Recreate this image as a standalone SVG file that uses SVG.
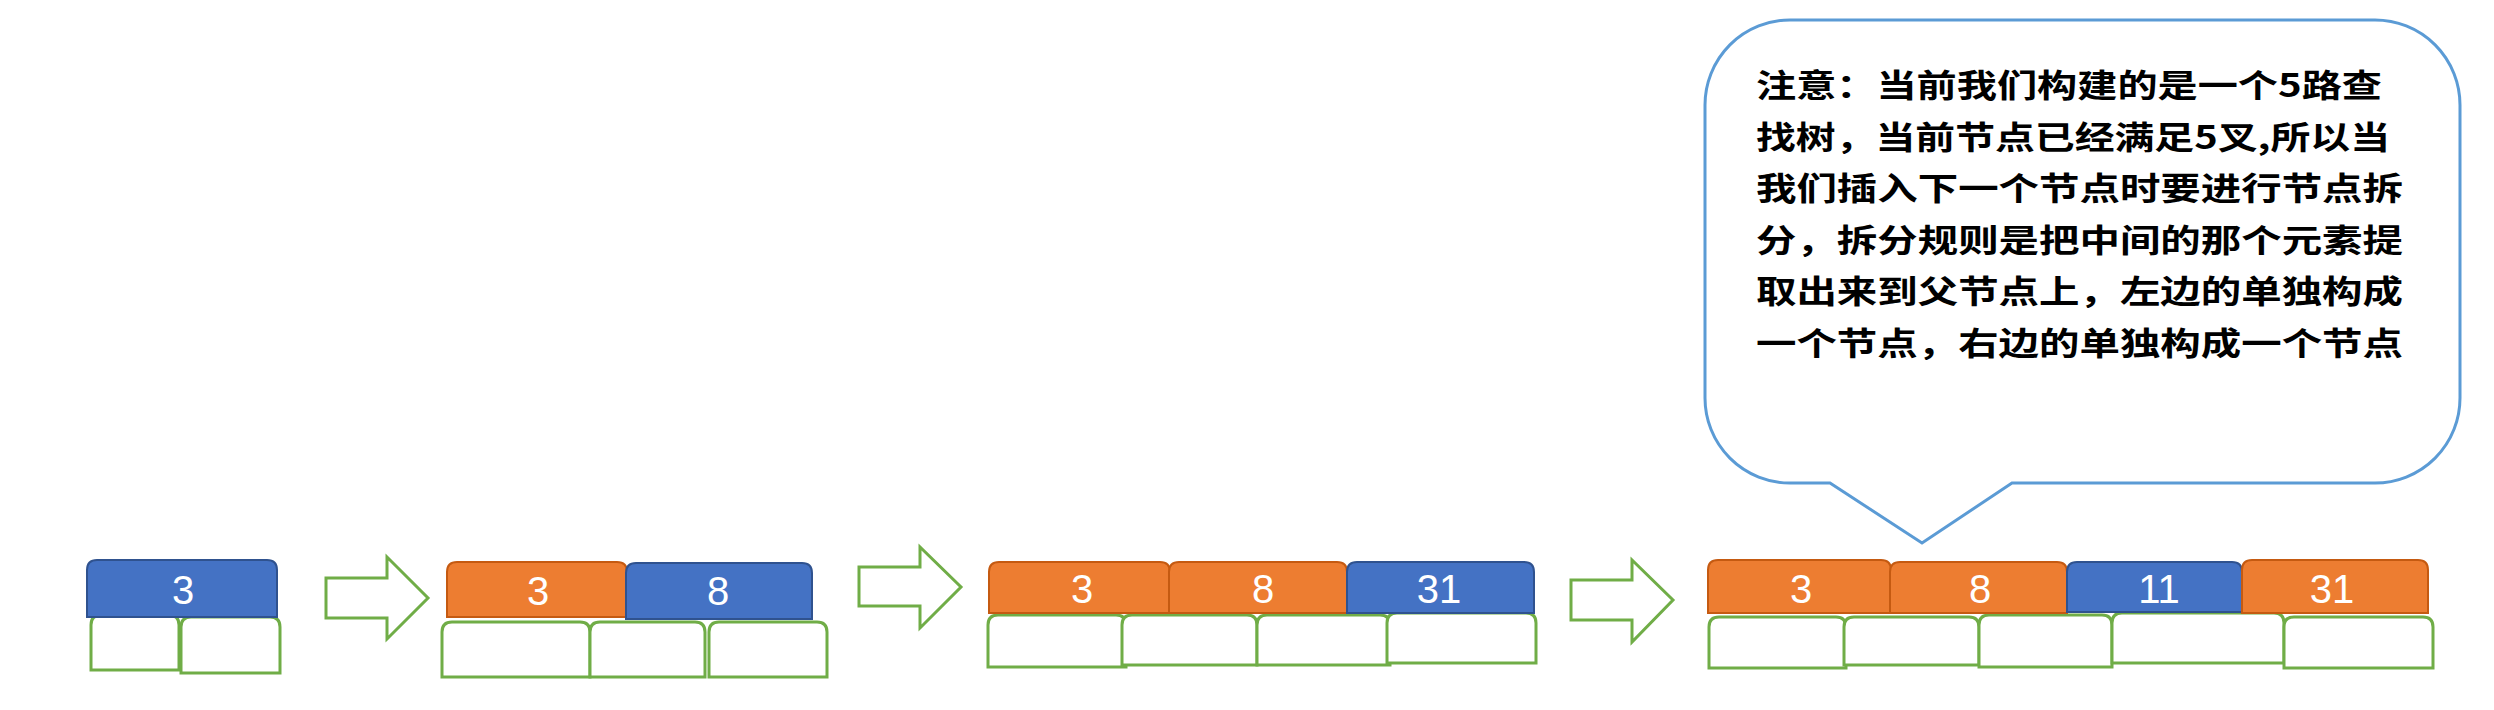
<svg xmlns="http://www.w3.org/2000/svg" width="2494" height="710" viewBox="0 0 2494 710">
<style>
.or{fill:#ED7D31;stroke:#C55A11;stroke-width:2}
.bl{fill:#4472C4;stroke:#2F528F;stroke-width:2}
.gr{fill:#FFFFFF;stroke:#70AD47;stroke-width:3}
.ar{fill:#FFFFFF;stroke:#70AD47;stroke-width:3;stroke-linejoin:miter}
.num{font-family:"Liberation Sans",Arial,sans-serif;font-size:40px;fill:#FFFFFF;text-anchor:middle}
.note{font-family:"Noto Sans CJK SC","Liberation Sans",sans-serif;font-size:32px;font-weight:bold;fill:#000000}
.call{fill:#FFFFFF;stroke:#5B9BD5;stroke-width:3}
</style>
<rect width="2494" height="710" fill="#FFFFFF"/>

<g id="callout">
<path class="call" d="M1790,20 L2375,20 A85,85 0 0 1 2460,105 L2460,398 A85,85 0 0 1 2375,483 L2012,483 L1922,543 L1830,483 L1790,483 A85,85 0 0 1 1705,398 L1705,105 A85,85 0 0 1 1790,20 Z"/>
<text class="note" x="1756" y="97" textLength="626" lengthAdjust="spacingAndGlyphs">注意：当前我们构建的是一个5路查</text>
<text class="note" x="1756" y="148.5" textLength="634" lengthAdjust="spacingAndGlyphs">找树，当前节点已经满足5叉,所以当</text>
<text class="note" x="1756" y="200" textLength="647" lengthAdjust="spacingAndGlyphs">我们插入下一个节点时要进行节点拆</text>
<text class="note" x="1756" y="251.5" textLength="647" lengthAdjust="spacingAndGlyphs">分，拆分规则是把中间的那个元素提</text>
<text class="note" x="1756" y="303" textLength="647" lengthAdjust="spacingAndGlyphs">取出来到父节点上，左边的单独构成</text>
<text class="note" x="1756" y="354.5" textLength="647" lengthAdjust="spacingAndGlyphs">一个节点，右边的单独构成一个节点</text>
</g>

<g id="node1">
<path class="gr" d="M91,670 L91,625 Q91,615 101,615 L169,615 Q179,615 179,625 L179,670 Z"/>
<path class="gr" d="M181,673 L181,627 Q181,617 191,617 L270,617 Q280,617 280,627 L280,673 Z"/>
<path class="bl" d="M87,617 L87,570 Q87,560 97,560 L267,560 Q277,560 277,570 L277,617 Z"/>
<text class="num" x="183" y="604">3</text>
</g>

<g id="node2">
<path class="gr" d="M442,677 L442,632 Q442,622 452,622 L580,622 Q590,622 590,632 L590,677 Z"/>
<path class="gr" d="M590,677 L590,632 Q590,622 600,622 L695,622 Q705,622 705,632 L705,677 Z"/>
<path class="gr" d="M709,677 L709,632 Q709,622 719,622 L817,622 Q827,622 827,632 L827,677 Z"/>
<path class="or" d="M447,617 L447,572 Q447,562 457,562 L617,562 Q627,562 627,572 L627,617 Z"/>
<path class="bl" d="M626,619 L626,573 Q626,563 636,563 L802,563 Q812,563 812,573 L812,619 Z"/>
<text class="num" x="538" y="605">3</text>
<text class="num" x="718" y="605">8</text>
</g>

<g id="node3">
<path class="gr" d="M988,667 L988,625 Q988,615 998,615 L1116,615 Q1126,615 1126,625 L1126,667 Z"/>
<path class="gr" d="M1122,665 L1122,625 Q1122,615 1132,615 L1247,615 Q1257,615 1257,625 L1257,665 Z"/>
<path class="gr" d="M1257,665 L1257,625 Q1257,615 1267,615 L1380,615 Q1390,615 1390,625 L1390,665 Z"/>
<path class="gr" d="M1387,663 L1387,623 Q1387,613 1397,613 L1526,613 Q1536,613 1536,623 L1536,663 Z"/>
<path class="or" d="M989,613 L989,572 Q989,562 999,562 L1160,562 Q1170,562 1170,572 L1170,613 Z"/>
<path class="or" d="M1169,613 L1169,572 Q1169,562 1179,562 L1337,562 Q1347,562 1347,572 L1347,613 Z"/>
<path class="bl" d="M1347,613 L1347,572 Q1347,562 1357,562 L1524,562 Q1534,562 1534,572 L1534,613 Z"/>
<text class="num" x="1082" y="603">3</text>
<text class="num" x="1263" y="603">8</text>
<text class="num" x="1439" y="603">31</text>
</g>

<g id="node4">
<path class="gr" d="M1709,668 L1709,627 Q1709,617 1719,617 L1836,617 Q1846,617 1846,627 L1846,668 Z"/>
<path class="gr" d="M1844,665 L1844,627 Q1844,617 1854,617 L1969,617 Q1979,617 1979,627 L1979,665 Z"/>
<path class="gr" d="M1979,667 L1979,625 Q1979,615 1989,615 L2102,615 Q2112,615 2112,625 L2112,667 Z"/>
<path class="gr" d="M2112,663 L2112,623 Q2112,613 2122,613 L2274,613 Q2284,613 2284,623 L2284,663 Z"/>
<path class="gr" d="M2284,668 L2284,627 Q2284,617 2294,617 L2423,617 Q2433,617 2433,627 L2433,668 Z"/>
<path class="or" d="M1708,613 L1708,570 Q1708,560 1718,560 L1881,560 Q1891,560 1891,570 L1891,613 Z"/>
<path class="or" d="M1890,613 L1890,572 Q1890,562 1900,562 L2057,562 Q2067,562 2067,572 L2067,613 Z"/>
<path class="bl" d="M2067,612 L2067,572 Q2067,562 2077,562 L2232,562 Q2242,562 2242,572 L2242,612 Z"/>
<path class="or" d="M2242,613 L2242,570 Q2242,560 2252,560 L2418,560 Q2428,560 2428,570 L2428,613 Z"/>
<text class="num" x="1801" y="603">3</text>
<text class="num" x="1980" y="603">8</text>
<text class="num" x="2159" y="603">11</text>
<text class="num" x="2332" y="603">31</text>
</g>

<g id="connectors">
<polygon class="ar" points="326,578 387,578 387,557 428,598 387,639 387,618 326,618"/>
<polygon class="ar" points="859,567 920,567 920,547 961,587 920,628 920,606 859,606"/>
<polygon class="ar" points="1571,580 1632,580 1632,560 1673,600 1632,642 1632,620 1571,620"/>
</g>
</svg>
